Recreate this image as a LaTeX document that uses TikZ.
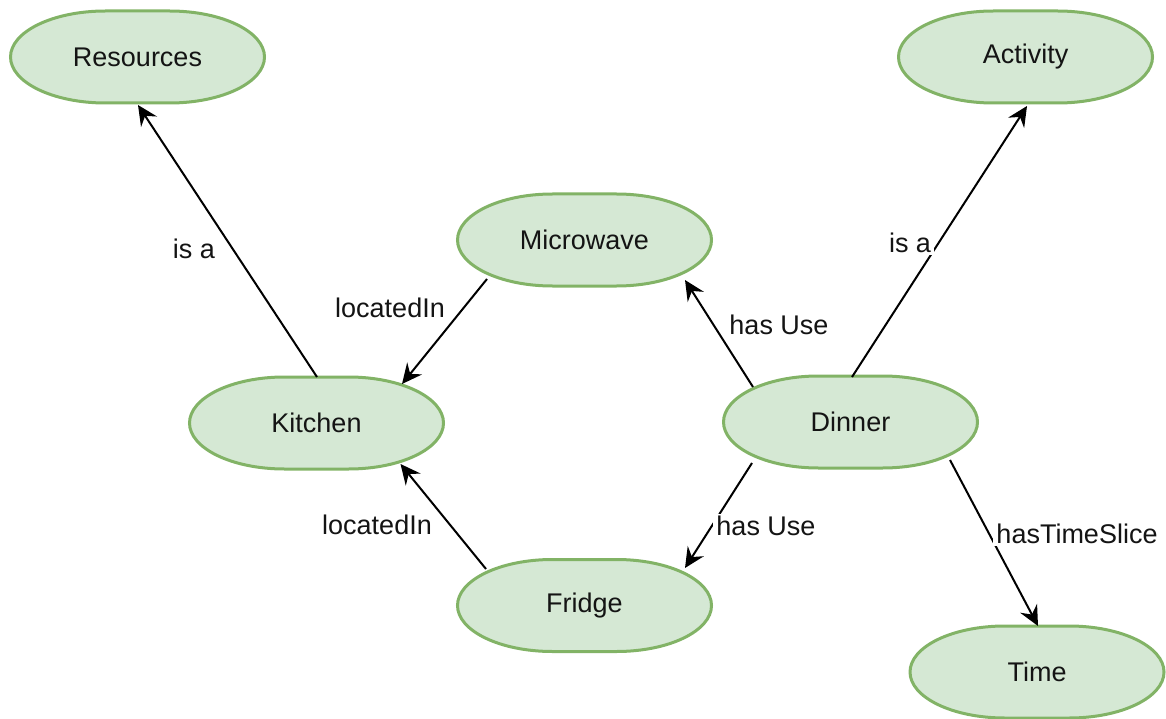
\documentclass[tikz,border=0pt]{standalone}
\usepackage{fontspec}
\setmainfont{Liberation Sans}
\usetikzlibrary{arrows.meta,calc,backgrounds}
\definecolor{conceptfill}{HTML}{D5E8D4}
\definecolor{conceptline}{HTML}{82B366}
\definecolor{inktext}{HTML}{141414}
% oval outline of a concept: a flat-topped body with elliptical ends
\newcommand{\conceptoutline}[1]{%
  \path[conceptbody] ($(#1.center)+(-127,0)$)
    arc[start angle=180, end angle=90, x radius=95, y radius=46]
    -- ++(64,0)
    arc[start angle=90, end angle=0, x radius=95, y radius=46]
    arc[start angle=0, end angle=-90, x radius=95, y radius=46]
    -- ++(-64,0)
    arc[start angle=-90, end angle=-180, x radius=95, y radius=46]
    -- cycle;}
\begin{document}
\begin{tikzpicture}[x=1pt,y=-1pt,
  concept/.style={inner sep=0pt, minimum width=254pt, minimum height=92pt,
    text=inktext, font=\fontsize{27}{32}\selectfont},
  conceptbody/.style={draw=conceptline, fill=conceptfill, line width=3pt},
  relation/.style={draw=black, line width=2pt,
    -{Stealth[length=20pt,width=19pt,inset=7pt]}},
  relname/.style={fill=white, inner xsep=3pt, inner ysep=2pt, text=inktext,
    font=\fontsize{27}{32}\selectfont}]
\useasboundingbox (0,0) rectangle (1166,719);

% concepts
\node[concept] (resources) at (137.5,57)  {Resources};
\node[concept] (activity)  at (1025.5,57) {Activity};
\node[concept] (microwave) at (584.5,240) {Microwave};
\node[concept] (kitchen)   at (316.5,423) {Kitchen};
\node[concept] (dinner)    at (850.5,422) {Dinner};
\node[concept] (fridge)    at (584.5,605.5) {Fridge};
\node[concept] (time)      at (1037,672)  {Time};

\begin{scope}[on background layer]
  \foreach \c in {resources,activity,microwave,kitchen,dinner,fridge,time}
    {\conceptoutline{\c}}
\end{scope}

% relations
\draw[relation] ($(kitchen.center)+(0.5,-46)$) -- ($(resources.center)+(0.5,48)$);
\draw[relation] ($(microwave.center)+(-97.5,39)$) -- ($(kitchen.center)+(85.5,-39)$);
\draw[relation] ($(fridge.center)+(-98.5,-36.5)$) -- ($(kitchen.center)+(84,41)$);
\draw[relation] ($(dinner.center)+(-97.5,-35)$) -- ($(microwave.center)+(100.5,40)$);
\draw[relation] ($(dinner.center)+(-98.5,41)$) -- ($(fridge.center)+(100.5,-37.5)$);
\draw[relation] ($(dinner.center)+(1.5,-45)$) -- ($(activity.center)+(1.5,49)$);
\draw[relation] ($(dinner.center)+(99.5,38)$) -- ($(time.center)+(1,-46)$);

% relation names
\node[relname] (isaRes)  at (194,249)  {is a};
\node[relname] (locMic)  at (390,308)  {locatedIn};
\node[relname] (locFri)  at (377,525)  {locatedIn};
\node[relname] (useMic)  at (779,325)  {has Use};
\node[relname] (useFri)  at (766,526)  {has Use};
\node[relname] (isaAct)  at (910,243)  {is a};
\node[relname] (slice)   at (1077,534) {hasTimeSlice};
\end{tikzpicture}
\end{document}
